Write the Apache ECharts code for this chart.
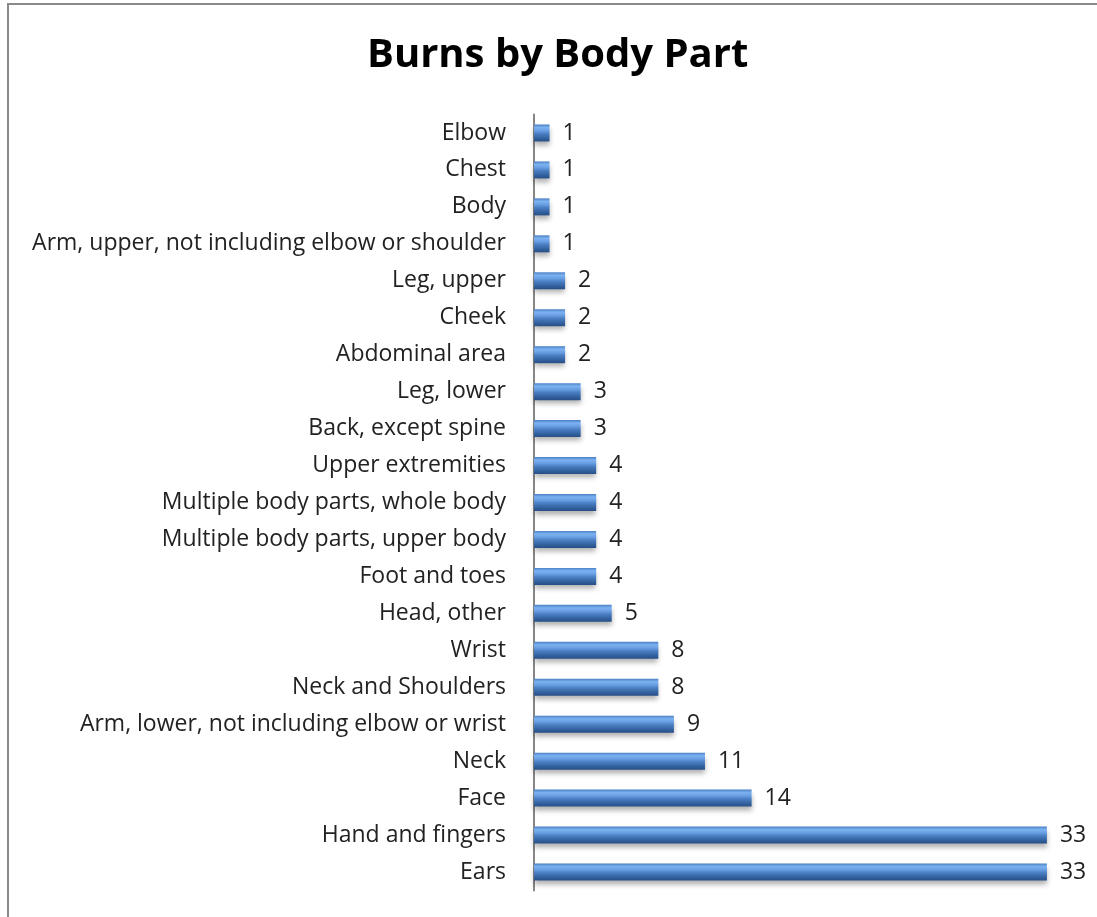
<!DOCTYPE html>
<html>
<head>
<meta charset="utf-8">
<title>Burns by Body Part</title>
<script src="https://cdn.jsdelivr.net/npm/echarts@6/dist/echarts.min.js"></script>
<style>
    html, body { margin: 0; padding: 0; background: #fff; overflow: hidden; }
    #frame {
        position: absolute; left: 7px; top: 3px; width: 1200px; height: 1000px;
        border-left: 2px solid #8a8a8a; border-top: 2px solid #8a8a8a;
    }
    #chart { position: absolute; left: 0; top: 0; width: 1097px; height: 917px; }
</style>
</head>
<body>
<div id="frame"></div>
<div id="chart"></div>
<script>
// 类别（从上到下）
var bodyParts = [
    'Elbow', 'Chest', 'Body', 'Arm, upper, not including elbow or shoulder',
    'Leg, upper', 'Cheek', 'Abdominal area', 'Leg, lower', 'Back, except spine',
    'Upper extremities', 'Multiple body parts, whole body', 'Multiple body parts, upper body',
    'Foot and toes', 'Head, other', 'Wrist', 'Neck and Shoulders',
    'Arm, lower, not including elbow or wrist', 'Neck', 'Face', 'Hand and fingers', 'Ears'
];
// 烧伤数量
var burnCounts = [1, 1, 1, 1, 2, 2, 2, 3, 3, 4, 4, 4, 4, 5, 8, 8, 9, 11, 14, 33, 33];

var chart = echarts.init(document.getElementById('chart'));

var option = {
    backgroundColor: 'transparent',
    title: {
        text: 'Burns by Body Part',
        left: 362,
        top: 31,
        textStyle: {
            fontFamily: 'Open Sans',
            fontWeight: 'bold',
            fontSize: 40,
            color: '#000'
        }
    },
    grid: {
        left: 534,
        right: 19,
        top: 114.5,
        bottom: 26.5
    },
    xAxis: {
        type: 'value',
        min: 0,
        max: 35,
        show: false
    },
    yAxis: {
        type: 'category',
        data: bodyParts,
        inverse: true,
        axisLine: { lineStyle: { color: '#868686', width: 2 } },
        axisTick: { show: false },
        axisLabel: {
            margin: 28,
            fontFamily: 'Open Sans',
            fontSize: 23,
            color: '#222'
        }
    },
    series: [
        {
            type: 'bar',
            data: burnCounts,
            barWidth: 17,
            itemStyle: {
                color: {
                    type: 'linear', x: 0, y: 0, x2: 0, y2: 1,
                    colorStops: [
                        { offset: 0, color: '#4c80c6' },
                        { offset: 0.18, color: '#7cb2f0' },
                        { offset: 0.35, color: '#6aa0e4' },
                        { offset: 0.55, color: '#4a7ec2' },
                        { offset: 0.8, color: '#33629f' },
                        { offset: 1, color: '#274e86' }
                    ]
                },
                shadowBlur: 5,
                shadowOffsetY: 4,
                shadowColor: 'rgba(0,0,0,0.3)'
            },
            label: {
                show: true,
                position: 'right',
                distance: 13,
                fontFamily: 'Open Sans',
                fontSize: 23,
                color: '#222'
            }
        }
    ]
};

chart.setOption(option);

window.addEventListener('resize', function() {
    chart.resize();
});
</script>
</body>
</html>
